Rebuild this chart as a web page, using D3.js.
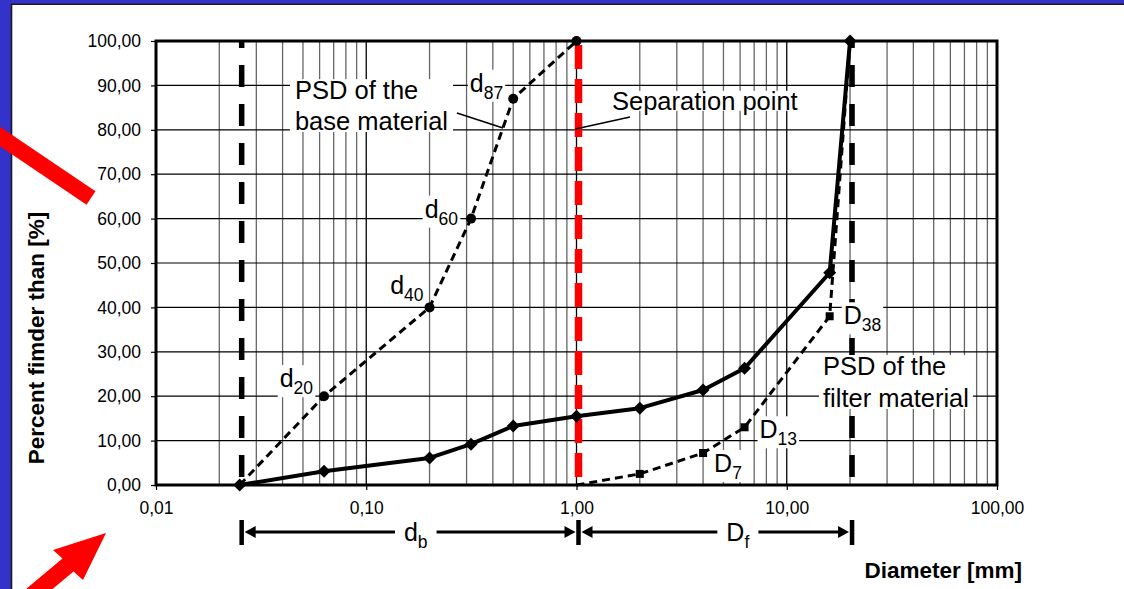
<!DOCTYPE html>
<html><head><meta charset="utf-8">
<script src="https://cdn.jsdelivr.net/npm/d3@7"></script>
<style>html,body{margin:0;padding:0;background:#fff;}svg{display:block;font-family:Arial,"Liberation Sans",sans-serif;}</style>
</head><body><svg id="c" width="1124" height="589"></svg>
<script>
// ---- data ----
const baseDiam = [0.025, 0.063, 0.2, 0.315, 0.5, 1.0];
const basePercent = [0, 20, 40, 60, 87, 100];
const filterDiam = [0.025, 0.063, 0.2, 0.315, 0.5, 1.0, 2.0, 4.0, 6.3, 16, 20];
const filterPercent = [0, 3.1, 6.1, 9.2, 13.3, 15.5, 17.3, 21.4, 26.3, 47.8, 100];
const coarseDiam = [1.0, 2.0, 4.0, 6.3, 16, 20];
const coarsePercent = [0, 2.5, 7.2, 13, 38, 100];
const boundaryDiam = [0.025, 20];
const separationDiam = 1.0;
const xTicks = [0.01, 0.1, 1, 10, 100];
const yTicks = [0, 10, 20, 30, 40, 50, 60, 70, 80, 90, 100];
const baseLabels = [["d","20",0.063,20],["d","40",0.2,40],["d","60",0.315,60],["d","87",0.5,87]];
const coarseLabels = [["D","7",4.0,7.2],["D","13",6.3,13],["D","38",16,38]];

const W = 1124, H = 589;
const L = 156, R = 997, T = 41, B = 485;
const svg = d3.select("#c");
const x = d3.scaleLog().domain([0.01, 100]).range([L, R]);
const y = d3.scaleLinear().domain([0, 100]).range([B, T]);
const fmt = v => d3.format(".2f")(v).replace(".", ",");

// frame
svg.append("rect").attr("width", W).attr("height", H).attr("fill", "#3333cc");
svg.append("rect").attr("x", 12).attr("y", 5).attr("width", W).attr("height", H).attr("fill", "#fff");
svg.append("path").attr("d", `M11.5,${H}V4.3H${W}`).attr("fill", "none").attr("stroke", "#1a1a1a").attr("stroke-width", 1.6);

// grid
const minor = [];
for (let e = -2; e < 2; e++) for (let k = 2; k <= 9; k++) minor.push(k * Math.pow(10, e));
const g = svg.append("g");
g.selectAll(".mn").data(minor).join("line").attr("x1", d => x(d)).attr("x2", d => x(d))
  .attr("y1", T).attr("y2", B).attr("stroke", "#666").attr("stroke-width", 1.3);
g.selectAll(".mj").data(xTicks).join("line").attr("x1", d => x(d)).attr("x2", d => x(d))
  .attr("y1", T).attr("y2", B).attr("stroke", "#000").attr("stroke-width", 1.3);
g.selectAll(".hy").data(yTicks).join("line").attr("x1", L).attr("x2", R)
  .attr("y1", d => y(d)).attr("y2", d => y(d)).attr("stroke", "#000").attr("stroke-width", 1.2);

// axes
const ya = svg.append("g").attr("transform", `translate(${L},0)`)
  .call(d3.axisLeft(y).tickValues(yTicks).tickFormat(fmt).tickSize(5).tickPadding(10));
const xa = svg.append("g").attr("transform", `translate(0,${B})`)
  .call(d3.axisBottom(x).tickValues(xTicks).tickFormat(fmt).tickSize(5).tickPadding(12));
[ya, xa].forEach(a => {
  a.select(".domain").remove();
  a.selectAll("text").attr("font-size", 17.5).attr("fill", "#000").attr("font-family", "Arial, 'Liberation Sans', sans-serif");
  a.selectAll("line").attr("stroke", "#000").attr("stroke-width", 1.2);
});

// guide lines
const sh = 2;
svg.selectAll(".bd").data(boundaryDiam).join("line")
  .attr("x1", d => x(d) + sh).attr("x2", d => x(d) + sh).attr("y1", y(100)).attr("y2", y(0))
  .attr("stroke", "#000").attr("stroke-width", 5.5).attr("stroke-dasharray", "22,17").attr("stroke-dashoffset", 15);
svg.append("line").attr("x1", x(separationDiam) + sh).attr("x2", x(separationDiam) + sh)
  .attr("y1", y(100)).attr("y2", y(0)).attr("stroke", "#ff0000").attr("stroke-width", 7.5)
  .attr("stroke-dasharray", "24,10").attr("stroke-dashoffset", 30);

// border
svg.append("rect").attr("x", L).attr("y", T).attr("width", R - L).attr("height", B - T)
  .attr("fill", "none").attr("stroke", "#000").attr("stroke-width", 3);

// label helper with white background
function boxed(sel, padX, padY) {
  const bb = sel.node().getBBox();
  sel.insert("rect", ":first-child").attr("x", bb.x - padX).attr("y", bb.y - padY)
    .attr("width", bb.width + 2 * padX).attr("height", bb.height + 2 * padY).attr("fill", "#fff");
}
function multi(lines, xv, yvs, pad) {
  const gg = svg.append("g");
  const t = gg.append("text").attr("font-size", 25.5).attr("fill", "#000");
  lines.forEach((s, i) => t.append("tspan").attr("x", x(xv)).attr("y", y(yvs[i])).text(s));
  boxed(gg, pad[0], pad[1]);
  return gg;
}
function subLabel(main, sub, px, py, anchor) {
  const gg = svg.append("g");
  const t = gg.append("text").attr("x", px).attr("y", py).attr("text-anchor", anchor).attr("fill", "#000");
  t.append("tspan").attr("font-size", 25).text(main);
  t.append("tspan").attr("font-size", 17.5).attr("dy", 7).text(sub);
  boxed(gg, 2, -1);
}

// leader lines and annotations
svg.append("line").attr("x1", x(0.27)).attr("y1", y(83.8)).attr("x2", x(0.447)).attr("y2", y(80.4))
  .attr("stroke", "#000").attr("stroke-width", 1.6);
multi(["PSD of the", "base material"], 0.0458, [86.9, 79.95], [5, -3]);
multi(["Separation point"], 1.475, [84.5], [4, -4]);
svg.append("line").attr("x1", x(1.797)).attr("y1", y(82.9)).attr("x2", x(separationDiam) - 1).attr("y2", y(80.2))
  .attr("stroke", "#000").attr("stroke-width", 1.6);
multi(["PSD of the", "filter material"], 14.87, [24.77, 17.57], [4, -3]);

const baseOff = [[-11, -9], [-6, -13], [-13, -1], [-10, -7]];
baseLabels.forEach((l, i) => subLabel(l[0], l[1], x(l[2]) + baseOff[i][0], y(l[3]) + baseOff[i][1], "end"));
const coarseOff = [[11, 19], [15, 11], [14, 8]];
coarseLabels.forEach((l, i) => subLabel(l[0], l[1], x(l[2]) + coarseOff[i][0], y(l[3]) + coarseOff[i][1], "start"));

// series
const line = d3.line().x(d => x(d[0])).y(d => y(d[1]));
const baseData = d3.zip(baseDiam, basePercent);
const filterData = d3.zip(filterDiam, filterPercent);
const coarseData = d3.zip(coarseDiam, coarsePercent);
svg.append("path").datum(coarseData).attr("d", line).attr("fill", "none").attr("stroke", "#000")
  .attr("stroke-width", 3).attr("stroke-dasharray", "8,5");
svg.append("path").datum(baseData).attr("d", line).attr("fill", "none").attr("stroke", "#000")
  .attr("stroke-width", 3).attr("stroke-dasharray", "8,5");
svg.append("path").datum(filterData).attr("d", line).attr("fill", "none").attr("stroke", "#000")
  .attr("stroke-width", 4).attr("stroke-linejoin", "round");
svg.selectAll(".sq").data(coarseData.filter(d => d[1] > 0 && d[1] < 100)).join("rect")
  .attr("x", d => x(d[0]) - 4).attr("y", d => y(d[1]) - 4).attr("width", 8).attr("height", 8).attr("fill", "#000");
svg.selectAll(".ci").data(baseData.filter(d => d[1] > 0)).join("circle")
  .attr("cx", d => x(d[0])).attr("cy", d => y(d[1])).attr("r", 5).attr("fill", "#000");
svg.selectAll(".di").data(filterData).join("path")
  .attr("d", d => { const cx = x(d[0]), cy = y(d[1]), r = 6.5; return `M${cx},${cy - r}L${cx + r},${cy}L${cx},${cy + r}L${cx - r},${cy}Z`; })
  .attr("fill", "#000");

// dimension arrows
const dimY = y(0) + 47;
const segs = [[boundaryDiam[0], separationDiam, "d", "b", 0.172], [separationDiam, boundaryDiam[1], "D", "f", 5.85]];
const dg = svg.append("g");
function head(tipX, dir) {
  dg.append("path").attr("d", `M${tipX},${dimY}L${tipX + dir * 11},${dimY - 6}L${tipX + dir * 11},${dimY + 6}Z`).attr("fill", "#000");
}
segs.forEach(s => {
  const x0 = x(s[0]) + sh, x1 = x(s[1]) + sh;
  const t = dg.append("text").attr("x", x(s[4])).attr("y", dimY + 9).attr("text-anchor", "middle").attr("fill", "#000");
  t.append("tspan").attr("font-size", 25).text(s[2]);
  t.append("tspan").attr("font-size", 17.5).attr("dy", 7).text(s[3]);
  const bb = t.node().getBBox();
  dg.append("line").attr("x1", x0 + 10).attr("x2", bb.x - 9).attr("y1", dimY).attr("y2", dimY).attr("stroke", "#000").attr("stroke-width", 3);
  dg.append("line").attr("x1", bb.x + bb.width + 9).attr("x2", x1 - 10).attr("y1", dimY).attr("y2", dimY).attr("stroke", "#000").attr("stroke-width", 3);
  head(x0 + 3, 1);
  head(x1 - 3, -1);
});
[boundaryDiam[0], separationDiam, boundaryDiam[1]].forEach(v => {
  dg.append("line").attr("x1", x(v) + sh).attr("x2", x(v) + sh).attr("y1", dimY - 12).attr("y2", dimY + 13)
    .attr("stroke", "#000").attr("stroke-width", 4.5);
});

// axis titles
svg.append("text").attr("transform", "translate(44,338) rotate(-90)").attr("text-anchor", "middle")
  .attr("font-size", 22.5).attr("font-weight", "bold").attr("fill", "#000").text("Percent fimder than [%]");
svg.append("text").attr("x", 1022).attr("y", 578).attr("text-anchor", "end")
  .attr("font-size", 22.5).attr("font-weight", "bold").attr("fill", "#000").text("Diameter [mm]");

// red arrows overlay
svg.append("line").attr("x1", -20).attr("y1", 123).attr("x2", 91).attr("y2", 198)
  .attr("stroke", "#ff0000").attr("stroke-width", 16);
svg.append("path").attr("d", "M106,533L53,550L62.5,558.5L16.5,597L27.5,610L73.5,571.5L83,580Z").attr("fill", "#ff0000");
</script></body></html>
